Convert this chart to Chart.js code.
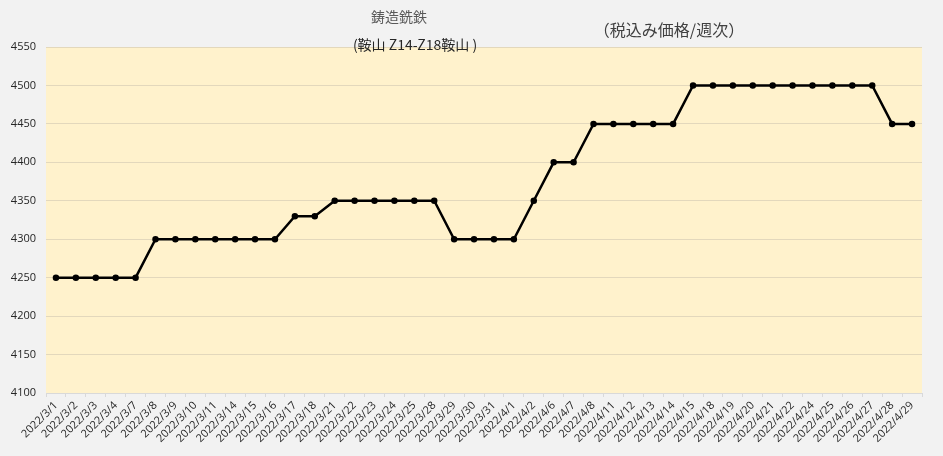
<!DOCTYPE html>
<html>
<head>
<meta charset="utf-8">
<script src="https://cdn.jsdelivr.net/npm/chart.js@4.4.0/dist/chart.umd.min.js"></script>
<style>
  html, body { margin: 0; padding: 0; background: #f2f2f2; }
  #wrap { width: 943px; height: 456px; }
</style>
</head>
<body>
<div id="wrap"><canvas id="myChart"></canvas></div>
<script>
// 日付（取引日）
var fechas = [
  '2022/3/1','2022/3/2','2022/3/3','2022/3/4','2022/3/7','2022/3/8','2022/3/9','2022/3/10',
  '2022/3/11','2022/3/14','2022/3/15','2022/3/16','2022/3/17','2022/3/18','2022/3/21','2022/3/22',
  '2022/3/23','2022/3/24','2022/3/25','2022/3/28','2022/3/29','2022/3/30','2022/3/31','2022/4/1',
  '2022/4/2','2022/4/6','2022/4/7','2022/4/8','2022/4/11','2022/4/12','2022/4/13','2022/4/14',
  '2022/4/15','2022/4/18','2022/4/19','2022/4/20','2022/4/21','2022/4/22','2022/4/24','2022/4/25',
  '2022/4/26','2022/4/27','2022/4/28','2022/4/29'
];
// 価格
var precios = [
  4250,4250,4250,4250,4250,4300,4300,4300,
  4300,4300,4300,4300,4330,4330,4350,4350,
  4350,4350,4350,4350,4300,4300,4300,4300,
  4350,4400,4400,4450,4450,4450,4450,4450,
  4500,4500,4500,4500,4500,4500,4500,4500,
  4500,4500,4450,4450
];
var yMin = 4100, yMax = 4550, yStep = 50;
var titulo = '鋳造銑鉄';
var subtitulo = '(鞍山 Z14-Z18鞍山 )';
var nota = '（税込み価格/週次）';

var fontFam = '"Open Sans", "Liberation Sans", "Noto Sans CJK JP", sans-serif';

var fondo = {
  id: 'fondo',
  beforeDraw: function(chart) {
    var c = chart.ctx, a = chart.chartArea;
    c.save();
    c.fillStyle = '#f2f2f2';
    c.fillRect(0, 0, chart.width, chart.height);
    c.fillStyle = '#fff2cc';
    c.fillRect(a.left, a.top, a.right - a.left, a.bottom - a.top);
    c.restore();
  },
  afterDraw: function(chart) {
    var c = chart.ctx;
    c.save();
    c.textAlign = 'center';
    c.textBaseline = 'middle';
    c.fillStyle = '#595959';
    c.font = '14px "Noto Sans CJK JP", sans-serif';
    c.fillText(titulo, 399, 17);
    c.fillStyle = '#262626';
    c.font = '14px "Noto Sans CJK JP", sans-serif';
    c.fillText(subtitulo, 415, 45);
    c.fillStyle = '#404040';
    c.font = '16px "Noto Sans CJK JP", sans-serif';
    c.fillText(nota, 669, 30);
    c.restore();
  }
};

const ctx = document.getElementById('myChart');
const myChart = new Chart(ctx, {
  type: 'line',
  data: {
    labels: fechas,
    datasets: [{
      data: precios,
      borderColor: '#000000',
      backgroundColor: '#000000',
      borderWidth: 2.5,
      pointRadius: 2,
      pointHoverRadius: 3,
      tension: 0
    }]
  },
  options: {
    responsive: true,
    maintainAspectRatio: false,
    animation: false,
    layout: { padding: { top: 47, right: 21, bottom: 0, left: 0 } },
    plugins: {
      legend: { display: false },
      tooltip: { enabled: false }
    },
    scales: {
      x: {
        offset: true,
        grid: {
          offset: true,
          drawOnChartArea: false,
          drawTicks: true,
          tickLength: 4,
          color: '#d9d9d9'
        },
        border: { color: '#d9d9d9' },
        ticks: {
          autoSkip: false,
          minRotation: 45,
          maxRotation: 45,
          padding: 2,
          color: '#262626',
          font: { family: fontFam, size: 11 }
        },
        afterFit: function(scale) { scale.height = 63; }
      },
      y: {
        min: yMin,
        max: yMax,
        grid: { color: '#e3d8bc', drawTicks: false },
        border: { display: false },
        ticks: {
          stepSize: yStep,
          padding: 10,
          color: '#262626',
          font: { family: fontFam, size: 11 },
          callback: function(v) { return String(v); }
        },
        afterFit: function(scale) { scale.width = 46; }
      }
    }
  },
  plugins: [fondo]
});
</script>
</body>
</html>
